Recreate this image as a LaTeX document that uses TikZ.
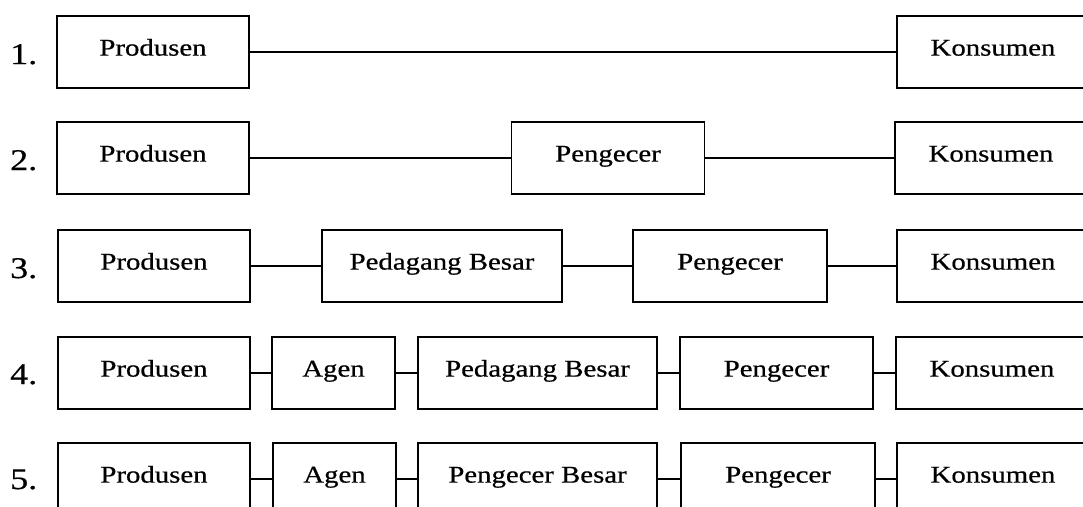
\documentclass[tikz,border=0pt]{standalone}
\usepackage{fontspec}
\setmainfont[FakeStretch=1.2, FakeBold=0.6]{Liberation Serif}
\tikzset{
  chain-box/.style={draw=black, line width=1.4pt, minimum height=72pt, inner sep=2pt,
    font=\fontsize{24}{28}\selectfont, text height=16.8pt, text depth=9.6pt},
  chain-link/.style={draw=black, line width=1.1pt},
  chain-num/.style={font=\fontsize{30}{34}\selectfont, anchor=base west, inner sep=0pt}
}

\begin{document}
\begin{tikzpicture}[x=1pt, y=-1pt]
  \clip (0,0) rectangle (1083,506);
  \foreach \n/\y in {1/64,2/170,3/278,4/384,5/489} {
    \node[chain-num] (num\n) at (10,\y) {\n.};
  }
  % 1. direct
  \node[chain-box, minimum width=192pt] (p1) at (153,52) {Produsen};
  \node[chain-box, minimum width=192pt] (k1) at (993,52) {Konsumen};
  \draw[chain-link] (p1) -- (k1);
  % 2. via retailer
  \node[chain-box, minimum width=192pt] (p2) at (153,158) {Produsen};
  \node[chain-box, minimum width=193pt] (r2) at (608,158) {Pengecer};
  \node[chain-box, minimum width=192pt] (k2) at (991,158) {Konsumen};
  \draw[chain-link] (p2) -- (r2);
  \draw[chain-link] (r2) -- (k2);
  % 3. via wholesaler
  \node[chain-box, minimum width=192pt] (p3) at (154,266) {Produsen};
  \node[chain-box, minimum width=240pt] (b3) at (442,266) {Pedagang Besar};
  \node[chain-box, minimum width=194pt] (r3) at (730,266) {Pengecer};
  \node[chain-box, minimum width=192pt] (k3) at (993,266) {Konsumen};
  \draw[chain-link] (p3) -- (b3);
  \draw[chain-link] (b3) -- (r3);
  \draw[chain-link] (r3) -- (k3);
  % 4. via agent and wholesaler
  \node[chain-box, minimum width=192pt] (p4) at (154,373) {Produsen};
  \node[chain-box, minimum width=123pt] (a4) at (333.5,373) {Agen};
  \node[chain-box, minimum width=239pt] (b4) at (537.5,373) {Pedagang Besar};
  \node[chain-box, minimum width=193pt] (r4) at (776.5,373) {Pengecer};
  \node[chain-box, minimum width=192pt] (k4) at (992,373) {Konsumen};
  \draw[chain-link] (p4) -- (a4);
  \draw[chain-link] (a4) -- (b4);
  \draw[chain-link] (b4) -- (r4);
  \draw[chain-link] (r4) -- (k4);
  % 5. via agent and big retailer
  \node[chain-box, minimum width=192pt] (p5) at (154,479) {Produsen};
  \node[chain-box, minimum width=123pt] (a5) at (334.5,479) {Agen};
  \node[chain-box, minimum width=239pt] (b5) at (537.5,479) {Pengecer Besar};
  \node[chain-box, minimum width=194pt] (r5) at (778,479) {Pengecer};
  \node[chain-box, minimum width=192pt] (k5) at (993,479) {Konsumen};
  \draw[chain-link] (p5) -- (a5);
  \draw[chain-link] (a5) -- (b5);
  \draw[chain-link] (b5) -- (r5);
  \draw[chain-link] (r5) -- (k5);
\end{tikzpicture}
\end{document}
